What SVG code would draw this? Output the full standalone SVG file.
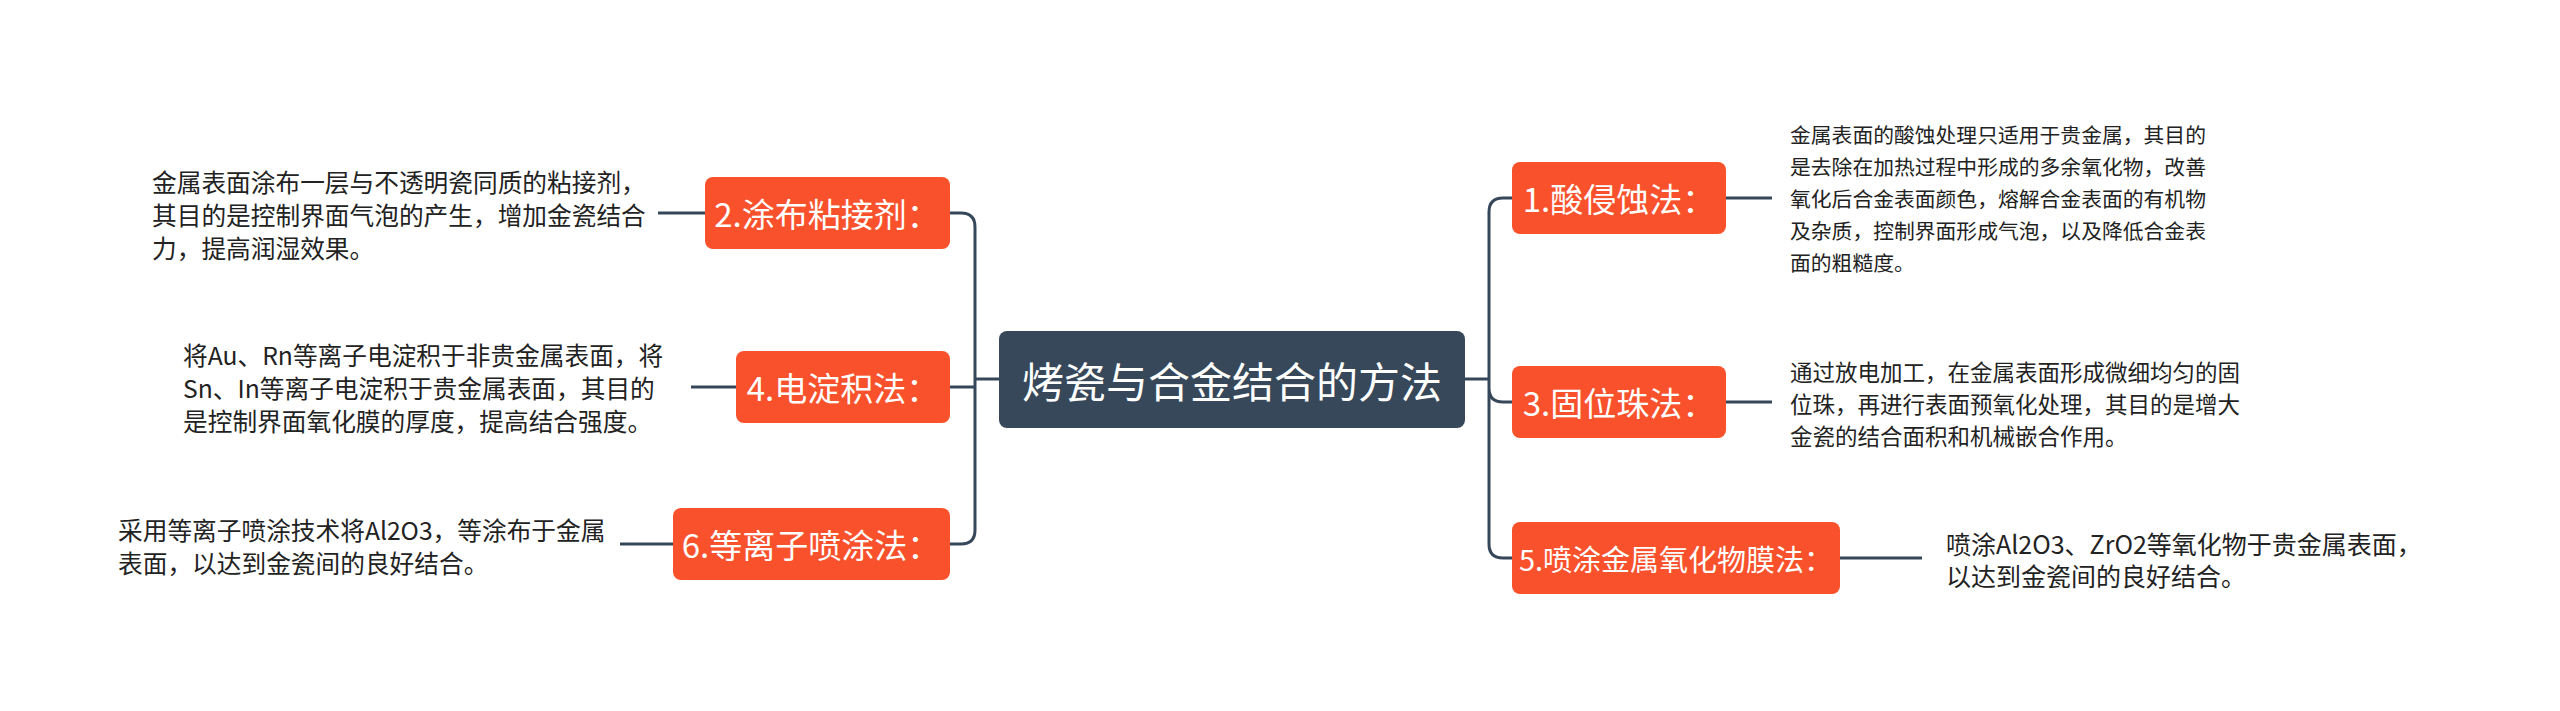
<svg xmlns="http://www.w3.org/2000/svg" width="2560" height="711" viewBox="0 0 2560 711">
<style>
.n{fill:#F9512C;}
.nt{font-family:"Noto Sans CJK SC","Noto Sans",sans-serif;font-size:33px;fill:#fff;text-anchor:middle;dominant-baseline:central;}
.ct{font-family:"Noto Sans CJK SC","Noto Sans",sans-serif;font-size:42px;fill:#fff;text-anchor:middle;dominant-baseline:central;}
.d{font-family:"Noto Sans CJK SC","Noto Sans",sans-serif;font-size:20.8px;fill:#222;dominant-baseline:central;}
.dl{font-size:24.7px;}
.d3{font-size:22.5px;}
.d5{font-size:25px;}
.c{fill:none;stroke:#37475A;stroke-width:3;}
</style>
<rect width="2560" height="711" fill="#fff"/>
<g id="connectors">
<path class="c" d="M1465 379H1489M1489 212Q1489 198 1503 198H1512M1489 388Q1489 402 1503 402H1512M1489 212V544Q1489 558 1503 558H1512"/>
<path class="c" d="M999 379H975M975 227Q975 213 961 213H950M975 387H950M975 227V530Q975 544 961 544H950"/>
<path class="c" d="M1726 198H1772M1726 402H1772M1840 558H1922M705 213H658M736 387H691M673 544H620"/>
</g>
<g id="center"><rect x="999" y="331" width="466" height="97" rx="8" fill="#36485A"/><text class="ct" x="1232" y="379">烤瓷与合金结合的方法</text></g>
<g id="n1"><rect class="n" x="1512" y="162" width="214" height="72" rx="8"/><text class="nt" x="1619" y="198">1.酸侵蚀法：</text></g>
<g id="n3"><rect class="n" x="1512" y="366" width="214" height="72" rx="8"/><text class="nt" x="1619" y="402">3.固位珠法：</text></g>
<g id="n5"><rect class="n" x="1512" y="522" width="328" height="72" rx="8"/><text class="nt" x="1676" y="558" style="font-size:29px">5.喷涂金属氧化物膜法：</text></g>
<g id="n2"><rect class="n" x="705" y="177" width="245" height="72" rx="8"/><text class="nt" x="827" y="213">2.涂布粘接剂：</text></g>
<g id="n4"><rect class="n" x="736" y="351" width="214" height="72" rx="8"/><text class="nt" x="843" y="387">4.电淀积法：</text></g>
<g id="n6"><rect class="n" x="673" y="508" width="277" height="72" rx="8"/><text class="nt" x="811" y="544">6.等离子喷涂法：</text></g>
<g id="d1"><text class="d" x="1790" y="134">金属表面的酸蚀处理只适用于贵金属，其目的</text><text class="d" x="1790" y="166">是去除在加热过程中形成的多余氧化物，改善</text><text class="d" x="1790" y="198">氧化后合金表面颜色，熔解合金表面的有机物</text><text class="d" x="1790" y="230">及杂质，控制界面形成气泡，以及降低合金表</text><text class="d" x="1790" y="262">面的粗糙度。</text></g>
<g id="d3"><text class="d d3" x="1790" y="371">通过放电加工，在金属表面形成微细均匀的固</text><text class="d d3" x="1790" y="403">位珠，再进行表面预氧化处理，其目的是增大</text><text class="d d3" x="1790" y="435">金瓷的结合面积和机械嵌合作用。</text></g>
<g id="d5"><text class="d d5" x="1946" y="543">喷涂Al2O3、ZrO2等氧化物于贵金属表面，</text><text class="d d5" x="1946" y="575">以达到金瓷间的良好结合。</text></g>
<g id="d2"><text class="d dl" x="152" y="181">金属表面涂布一层与不透明瓷同质的粘接剂，</text><text class="d dl" x="152" y="214">其目的是控制界面气泡的产生，增加金瓷结合</text><text class="d dl" x="152" y="247">力，提高润湿效果。</text></g>
<g id="d4"><text class="d dl" x="183" y="354">将Au、Rn等离子电淀积于非贵金属表面，将</text><text class="d dl" x="183" y="387">Sn、In等离子电淀积于贵金属表面，其目的</text><text class="d dl" x="183" y="420">是控制界面氧化膜的厚度，提高结合强度。</text></g>
<g id="d6"><text class="d dl" x="118" y="529">采用等离子喷涂技术将Al2O3，等涂布于金属</text><text class="d dl" x="118" y="562">表面，以达到金瓷间的良好结合。</text></g>
</svg>
